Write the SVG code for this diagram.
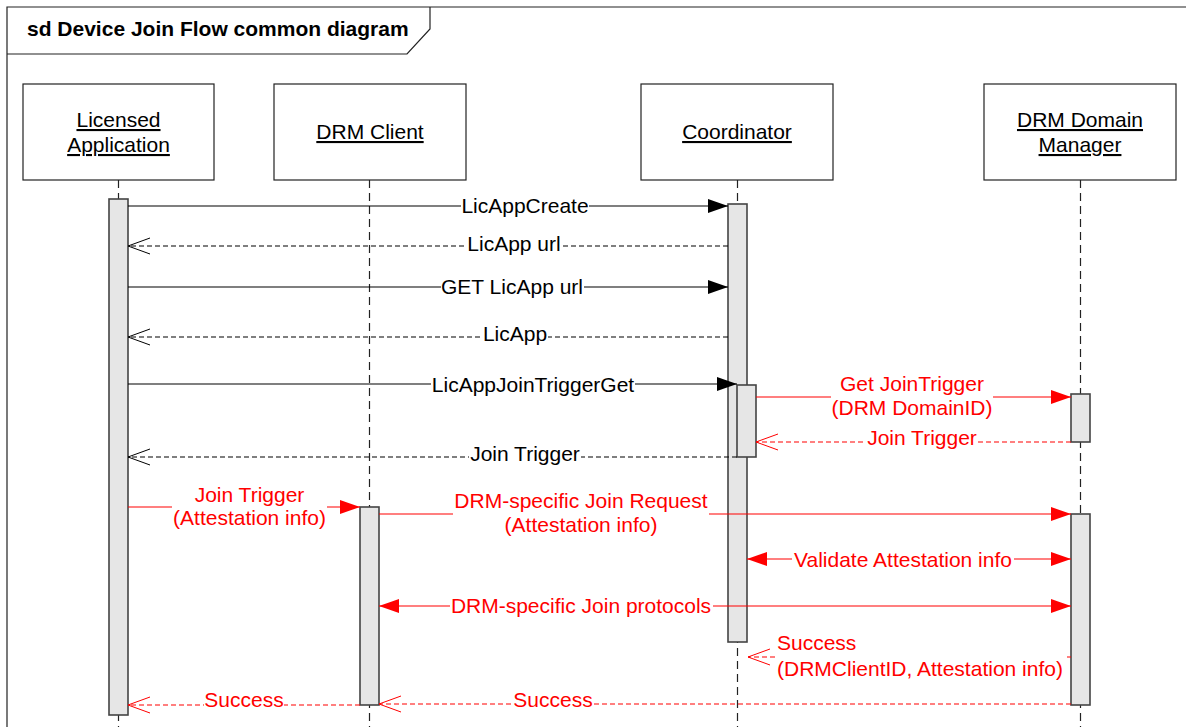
<svg xmlns="http://www.w3.org/2000/svg" width="1186" height="727" viewBox="0 0 1186 727">
<style>
text{font-family:"Liberation Sans",Arial,sans-serif;font-size:21px}
.t{font-weight:bold}
.n{text-anchor:middle;text-decoration:underline;fill:#000}
.m{text-anchor:middle}
.k{fill:#000}
.r{fill:#FF0000}
.box{fill:#fff;stroke:#222;stroke-width:1.2}
.life{stroke:#222;stroke-width:1.2;stroke-dasharray:8 5;fill:none}
.bar{fill:#E6E6E6;stroke:#444;stroke-width:1.6}
.cb{stroke:#000;stroke-width:1.2;fill:none}
.cr{stroke:#FF0000;stroke-width:1.2;fill:none}
.d{stroke-dasharray:5 3}
.bg{fill:#fff;stroke:none}
</style>
<defs>
<marker id="fb" markerUnits="userSpaceOnUse" viewBox="0 0 20 14" markerWidth="20" markerHeight="14" refX="20" refY="7" orient="auto-start-reverse"><path d="M0,0 L20,7 L0,14 z" fill="#000"/></marker>
<marker id="fr" markerUnits="userSpaceOnUse" viewBox="0 0 20 14" markerWidth="20" markerHeight="14" refX="20" refY="7" orient="auto-start-reverse"><path d="M0,0 L20,7 L0,14 z" fill="#FF0000"/></marker>
<marker id="ob" markerUnits="userSpaceOnUse" viewBox="0 0 22 16" markerWidth="22" markerHeight="16" refX="22" refY="8" orient="auto" overflow="visible"><path d="M0,0 L22,8 L0,16" fill="none" stroke="#000" stroke-width="1"/></marker>
<marker id="or" markerUnits="userSpaceOnUse" viewBox="0 0 22 16" markerWidth="22" markerHeight="16" refX="22" refY="8" orient="auto" overflow="visible"><path d="M0,0 L22,8 L0,16" fill="none" stroke="#FF0000" stroke-width="1"/></marker>
</defs>
<rect x="0" y="0" width="1186" height="727" fill="#fff"/>
<g id="frame">
<path d="M7,727 V7 H1186" fill="none" stroke="#222" stroke-width="1.2"/>
<path d="M7,54 H407 L430,29 V7" fill="none" stroke="#222" stroke-width="1.2"/>
<text class="t k" x="27" y="36">sd Device Join Flow common diagram</text>
</g>
<g id="licensed-application">
<rect class="box" x="23" y="84" width="191" height="96"/>
<text class="n" x="118.5" y="127">Licensed</text>
<text class="n" x="118.5" y="152">Application</text>
<line class="life" x1="118.5" y1="180" x2="118.5" y2="727"/>
<rect class="bar" x="109" y="199" width="19" height="516"/>
</g>
<g id="drm-client">
<rect class="box" x="274" y="84" width="192" height="96"/>
<text class="n" x="370" y="139">DRM Client</text>
<line class="life" x1="369.5" y1="180" x2="369.5" y2="727"/>
<rect class="bar" x="360" y="507" width="19" height="198"/>
</g>
<g id="coordinator">
<rect class="box" x="641" y="84" width="192" height="96"/>
<text class="n" x="737" y="139">Coordinator</text>
<line class="life" x1="737.5" y1="180" x2="737.5" y2="727"/>
<rect class="bar" x="728" y="204" width="19" height="438"/>
<rect class="bar" x="737" y="385" width="19" height="72"/>
</g>
<g id="drm-domain-manager">
<rect class="box" x="984" y="84" width="192" height="96"/>
<text class="n" x="1080" y="127">DRM Domain</text>
<text class="n" x="1080" y="152">Manager</text>
<line class="life" x1="1080.5" y1="180" x2="1080.5" y2="727"/>
<rect class="bar" x="1071" y="394" width="19" height="48"/>
<rect class="bar" x="1071" y="514" width="19" height="191"/>
</g>
<g id="connectors">
<path class="cb" d="M128,206 H728" marker-end="url(#fb)"/>
<path class="cb d" d="M728,246 H128" marker-end="url(#ob)"/>
<path class="cb" d="M128,287 H728" marker-end="url(#fb)"/>
<path class="cb d" d="M728,337 H128" marker-end="url(#ob)"/>
<path class="cb" d="M128,384 H737" marker-end="url(#fb)"/>
<path class="cr" d="M756,397 H1071" marker-end="url(#fr)"/>
<path class="cr d" d="M1071,442 H756" marker-end="url(#or)"/>
<path class="cb d" d="M737,457 H128" marker-end="url(#ob)"/>
<path class="cr" d="M128,507 H360" marker-end="url(#fr)"/>
<path class="cr" d="M379,514 H1071" marker-end="url(#fr)"/>
<path class="cr" d="M747,559 H1071" marker-start="url(#fr)" marker-end="url(#fr)"/>
<path class="cr" d="M379,606 H1071" marker-start="url(#fr)" marker-end="url(#fr)"/>
<path class="cr d" d="M1071,657 H748" marker-end="url(#or)"/>
<path class="cr d" d="M1071,704 H379" marker-end="url(#or)"/>
<path class="cr d" d="M360,705 H128" marker-end="url(#or)"/>
</g>
<g id="labels">
<rect class="bg" x="461" y="195" width="128" height="22"/>
<text class="m k" x="525" y="213">LicAppCreate</text>
<rect class="bg" x="467" y="234" width="94" height="22"/>
<text class="m k" x="514" y="251">LicApp url</text>
<rect class="bg" x="441" y="276" width="143" height="22"/>
<text class="m k" x="512" y="294">GET LicApp url</text>
<rect class="bg" x="483" y="324" width="65" height="22"/>
<text class="m k" x="515" y="341">LicApp</text>
<rect class="bg" x="431" y="373" width="204" height="22"/>
<text class="m k" x="533" y="392">LicAppJoinTriggerGet</text>
<rect class="bg" x="831" y="375" width="162" height="44"/>
<text class="m r" x="912" y="391">Get JoinTrigger</text>
<text class="m r" x="912" y="415">(DRM DomainID)</text>
<rect class="bg" x="866" y="429" width="112" height="21"/>
<text class="m r" x="922" y="445">Join Trigger</text>
<rect class="bg" x="469" y="443" width="112" height="22"/>
<text class="m k" x="525" y="461">Join Trigger</text>
<rect class="bg" x="172" y="484" width="155" height="45"/>
<text class="m r" x="249.5" y="502">Join Trigger</text>
<text class="m r" x="249.5" y="525">(Attestation info)</text>
<rect class="bg" x="453" y="490" width="256" height="46"/>
<text class="m r" x="581" y="508">DRM-specific Join Request</text>
<text class="m r" x="581" y="532">(Attestation info)</text>
<rect class="bg" x="792" y="548" width="222" height="22"/>
<text class="m r" x="903" y="567">Validate Attestation info</text>
<rect class="bg" x="450" y="595" width="263" height="22"/>
<text class="m r" x="581" y="613">DRM-specific Join protocols</text>
<rect class="bg" x="776" y="630" width="291" height="52"/>
<text class="r" x="777" y="650">Success</text>
<text class="r" x="777" y="676">(DRMClientID, Attestation info)</text>
<rect class="bg" x="513" y="692" width="81" height="20"/>
<text class="m r" x="553" y="707">Success</text>
<rect class="bg" x="204" y="693" width="80" height="20"/>
<text class="m r" x="244" y="707">Success</text>
</g>
</svg>
